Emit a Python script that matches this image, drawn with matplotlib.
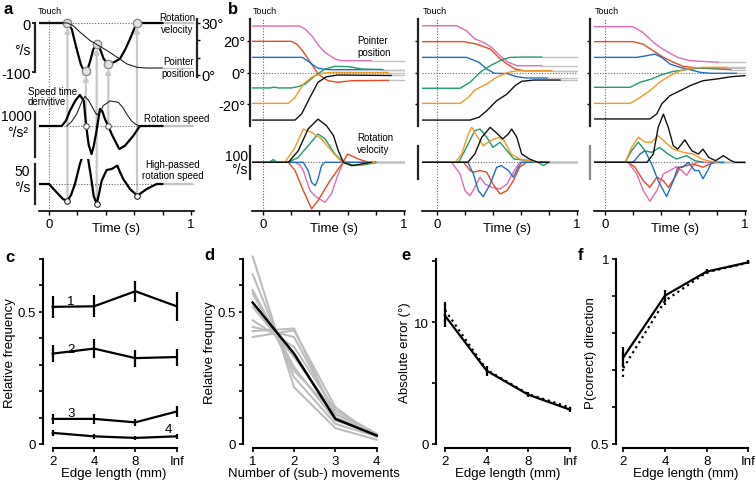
import numpy as np
import matplotlib
matplotlib.use('Agg')
import matplotlib.pyplot as plt
from matplotlib.patches import ConnectionPatch

plt.rcParams['font.family'] = ['Liberation Sans', 'DejaVu Sans']

W, H = 756, 485
PT = 0.72  # points per pixel at 100 dpi

# ---------------- panel a: one example trial (time s, value) ----------------
a_vel = [(-0.07, 0), (0.13, 0), (0.16, -12), (0.195, -53), (0.225, -85), (0.245, -97), (0.26, -98),
         (0.275, -92), (0.29, -78), (0.313, -53), (0.336, -43), (0.36, -53), (0.385, -73), (0.418, -84),
         (0.44, -82), (0.465, -79), (0.5, -73), (0.535, -55), (0.57, -33), (0.6, -12), (0.62, 0), (0.8, 0)]
a_pos = [(-0.07, 30), (0.13, 30), (0.17, 28.5), (0.22, 24.6), (0.29, 19.8), (0.35, 16.9), (0.41, 14.0),
         (0.48, 10.2), (0.55, 6.3), (0.62, 4.4), (0.69, 4.0), (0.8, 4.0)]
a_deriv = [(-0.07, 0), (0.09, 0), (0.12, 120), (0.148, 340), (0.185, 560), (0.218, 689), (0.245, 560),
           (0.262, 0), (0.28, -420), (0.3, -622), (0.315, -450), (0.335, -104), (0.359, 378), (0.375, 330),
           (0.395, 150), (0.418, 0), (0.44, -170), (0.465, -327), (0.495, -511), (0.535, -438),
           (0.594, -216), (0.64, 0), (0.8, 0)]
a_speed = [(0.125, 0), (0.16, 15), (0.195, 40), (0.23, 80), (0.254, 99), (0.28, 85), (0.312, 57),
           (0.335, 38), (0.36, 45), (0.382, 68), (0.43, 84), (0.488, 79), (0.52, 62), (0.547, 40),
           (0.58, 18), (0.606, 7), (0.64, 0)]
a_hp = [(-0.07, 0), (0.0, 0), (0.065, -12.5), (0.1, -19), (0.129, -21), (0.155, -14), (0.183, 0),
        (0.218, 25), (0.254, 44.6), (0.275, 32), (0.295, 10), (0.315, -15), (0.336, -25), (0.355, -10),
        (0.371, 4), (0.406, 17.5), (0.441, 18.75), (0.481, 22.9), (0.5, 15), (0.523, 6.25), (0.57, -6.25),
        (0.622, -14.6), (0.688, -6.25), (0.758, 0), (0.8, 0)]

ev_t = [0.13, 0.26, 0.336, 0.418, 0.62]
ev_vel = [0, -98, -43, -84, 0]
ev_src = ['hp', 'spd', 'hp', 'spd', 'hp']
ev_src_val = [-21, 0, -25, 0, -14.6]

# ---------------- panel b: three trials, six start angles ----------------
b_colors = ['#e06cb4', '#e44b26', '#1f6fc0', '#1e9c6c', '#f39a25', '#111111']

b1_pos_pink = [(-0.11, 29.5), (0.26, 29.5), (0.3, 27.5), (0.345, 23.4), (0.4, 16.5), (0.44, 12.8), (0.51, 8.6), (0.555, 7.5), (0.77, 7.5)]
b1_pos_red = [(-0.11, 19.8), (0.2, 19.8), (0.24, 18), (0.28, 13.8), (0.345, 5.4), (0.39, -1), (0.46, -5.2), (0.53, -6.2), (0.63, -5.2), (0.89, -5)]
b1_pos_blue = [(-0.11, 9.6), (0.28, 9.6), (0.315, 7.5), (0.345, 5.4), (0.39, 2.7), (0.46, 1.8), (0.85, 1.8)]
b1_pos_green = [(-0.11, -9.8), (0.05, -9.8), (0.08, -9.3), (0.11, -9.8), (0.2, -9.8), (0.25, -9), (0.3, -7.3), (0.37, -2), (0.44, 2.2), (0.51, 3.9), (0.61, 3.7), (0.7, 2.2), (0.85, 1.9)]
b1_pos_orange = [(-0.11, -19.6), (0.18, -19.6), (0.227, -15.8), (0.286, -7.3), (0.345, -3), (0.42, -0.5), (0.49, 0.1), (0.89, 0)]
b1_pos_black = [(-0.11, -30.2), (0.227, -30.2), (0.274, -26.3), (0.333, -15.8), (0.39, -6.2), (0.45, -2.7), (0.53, -1.6), (0.91, -1.9)]

b1_vel_pink = [(-0.11, 0), (0.227, 0), (0.26, -8), (0.286, -25), (0.333, -86), (0.38, -106), (0.44, -121), (0.485, -96), (0.534, -35), (0.57, 0), (0.78, 0)]
b1_vel_red = [(-0.11, 0), (0.18, 0), (0.227, -25), (0.286, -86), (0.345, -141), (0.39, -116), (0.475, -56), (0.56, -5), (0.6, 25), (0.676, 10), (0.77, -3), (0.8, 0)]
b1_vel_blue = [(-0.11, 0), (0.286, 0), (0.32, -25), (0.345, -61), (0.37, -71), (0.39, -51), (0.415, -10), (0.44, 0), (0.8, 0)]
b1_vel_green = [(-0.11, 0), (0.04, 0), (0.073, 8), (0.1, 0), (0.18, 0), (0.25, 15), (0.32, 50), (0.39, 86), (0.44, 71), (0.51, 25), (0.57, 0), (0.65, -10), (0.73, -7), (0.8, 0)]
b1_vel_orange = [(-0.11, 0), (0.155, 0), (0.227, 45), (0.286, 101), (0.345, 91), (0.415, 71), (0.485, 35), (0.56, 0), (0.63, -10), (0.72, -5), (0.79, 0)]
b1_vel_black = [(-0.11, 0), (0.18, 0), (0.25, 35), (0.32, 101), (0.39, 131), (0.45, 111), (0.5, 81), (0.534, 35), (0.57, 0), (0.63, -10), (0.7, -5), (0.77, 0)]

b2_pos_pink = [(-0.11, 29.7), (0.14, 29.7), (0.21, 26.5), (0.27, 21.3), (0.33, 19.2), (0.39, 16), (0.45, 10.7), (0.51, 6.5), (0.57, 4.3), (0.75, 4.3)]
b2_pos_red = [(-0.11, 19.6), (0.19, 19.6), (0.28, 18.1), (0.38, 14.9), (0.44, 9.6), (0.5, 5.4), (0.56, 2.2), (0.62, 1.1), (0.82, 1.1)]
b2_pos_blue = [(-0.11, 9.6), (0.21, 9.6), (0.3, 6.5), (0.355, 2.2), (0.41, -0.5), (0.5, -0.7), (0.57, -2.7), (0.64, -3.5), (0.79, -3.5)]
b2_pos_green = [(-0.11, -10), (0.165, -10), (0.236, -6.2), (0.307, 0.1), (0.38, 4.3), (0.45, 7.5), (0.52, 9.6), (0.62, 9.8), (0.75, 9.8)]
b2_pos_orange = [(-0.11, -19.6), (0.165, -19.6), (0.224, -15.8), (0.27, -11.1), (0.355, -7.3), (0.426, -3), (0.5, -0.1), (0.57, 1.1), (0.82, 1.1)]
b2_pos_black = [(-0.11, -30.2), (0.236, -30.2), (0.3, -28.4), (0.355, -24.3), (0.426, -17.9), (0.5, -13.7), (0.557, -8.4), (0.605, -5.6), (0.69, -4.8), (0.88, -4.8)]

b2_vel_pink = [(-0.11, 0), (0.105, 0), (0.164, -35), (0.2, -86), (0.236, -101), (0.27, -76), (0.307, -45), (0.343, -66), (0.39, -76), (0.45, -81), (0.5, -66), (0.545, -30), (0.59, 0), (0.75, 0)]
b2_vel_red = [(-0.11, 0), (0.19, 0), (0.236, -25), (0.26, -30), (0.307, -25), (0.355, -30), (0.4, -66), (0.45, -96), (0.5, -86), (0.545, -56), (0.59, -15), (0.64, 0), (0.8, 0)]
b2_vel_blue = [(-0.11, 0), (0.22, 0), (0.26, -35), (0.295, -86), (0.33, -104), (0.38, -66), (0.426, -15), (0.46, -10), (0.51, -25), (0.545, -45), (0.58, -15), (0.605, 0), (0.8, 0)]
b2_vel_green = [(-0.11, 0), (0.155, 0), (0.21, 45), (0.27, 96), (0.307, 101), (0.355, 76), (0.4, 45), (0.45, 61), (0.49, 40), (0.55, 10), (0.66, 5), (0.72, 0), (0.76, -10), (0.8, 0)]
b2_vel_orange = [(-0.11, 0), (0.13, 0), (0.176, 25), (0.224, 86), (0.248, 106), (0.283, 81), (0.33, 50), (0.38, 65), (0.44, 76), (0.48, 65), (0.53, 25), (0.59, 10), (0.66, 5), (0.72, 0)]
b2_vel_black = [(-0.11, 0), (0.22, 0), (0.27, 25), (0.32, 76), (0.38, 106), (0.42, 91), (0.47, 71), (0.51, 86), (0.533, 101), (0.57, 76), (0.605, 25), (0.66, 10), (0.72, 0), (0.8, 0)]

b3_pos_pink = [(-0.11, 29.1), (0.2, 29.1), (0.27, 25.5), (0.345, 19.2), (0.405, 15.3), (0.464, 12.2), (0.52, 9.6), (0.607, 7.5), (0.81, 6.5)]
b3_pos_red = [(-0.11, 19.6), (0.2, 19.6), (0.27, 18.1), (0.345, 13.8), (0.417, 9.6), (0.488, 6.5), (0.56, 3.9), (0.655, 2.9), (0.9, 1.8)]
b3_pos_blue = [(-0.11, 9.6), (0.226, 9.6), (0.3, 10.7), (0.357, 11.7), (0.405, 9.6), (0.464, 5.4), (0.536, 3.3), (0.607, 1.8), (0.68, 0.1), (0.75, -0.5), (0.94, -0.5)]
b3_pos_green = [(-0.11, -9.4), (0.18, -9.4), (0.25, -6.2), (0.333, -4.1), (0.405, -1.4), (0.488, 0.7), (0.583, 1.8), (0.68, 2.9), (0.82, 2.9)]
b3_pos_orange = [(-0.11, -19.6), (0.18, -19.6), (0.25, -15.8), (0.32, -11.6), (0.39, -6.2), (0.464, -2), (0.536, 1.1), (0.607, 2.7), (0.7, 3.3), (0.87, 3.3)]
b3_pos_black = [(-0.11, -29.5), (0.32, -29.5), (0.37, -26.3), (0.405, -20), (0.464, -14.7), (0.536, -11.6), (0.607, -8.4), (0.7, -5.2), (0.8, -4.1), (0.9, -2.7), (1.0, -2)]

b3_vel_pink = [(-0.11, 0), (0.165, 0), (0.226, -35), (0.274, -86), (0.32, -118), (0.37, -86), (0.417, -35), (0.464, -25), (0.51, -13), (0.548, -25), (0.583, -40), (0.62, -15), (0.655, 0), (0.8, 0)]
b3_vel_red = [(-0.11, 0), (0.165, 0), (0.214, -15), (0.274, -56), (0.32, -76), (0.37, -45), (0.417, -56), (0.452, -76), (0.5, -45), (0.536, -15), (0.583, -10), (0.63, -5), (0.7, -15), (0.75, -5), (0.8, 0)]
b3_vel_blue = [(-0.11, 0), (0.2, 0), (0.25, 25), (0.286, 35), (0.333, -5), (0.38, -56), (0.44, -104), (0.488, -56), (0.52, -15), (0.555, -15), (0.595, 0), (0.64, -25), (0.67, -25), (0.7, -50), (0.74, -20), (0.76, 0), (0.85, 0)]
b3_vel_green = [(-0.11, 0), (0.143, 0), (0.19, 35), (0.238, 61), (0.286, 35), (0.333, 30), (0.39, 45), (0.45, 25), (0.51, 10), (0.583, 20), (0.64, 5), (0.7, 0)]
b3_vel_orange = [(-0.11, 0), (0.143, 0), (0.19, 45), (0.238, 76), (0.286, 61), (0.333, 61), (0.38, 81), (0.43, 61), (0.488, 40), (0.56, 30), (0.63, 25), (0.69, 10), (0.75, 3), (0.8, 0)]
b3_vel_black = [(-0.11, 0), (0.3, 0), (0.345, 25), (0.38, 106), (0.417, 146), (0.452, 106), (0.488, 50), (0.52, 40), (0.57, 68), (0.62, 35), (0.667, 25), (0.7, 40), (0.74, 15), (0.79, 5), (0.845, 20), (0.9, 5), (0.93, 0), (1.0, 0)]

b_pos = [[b1_pos_pink, b1_pos_red, b1_pos_blue, b1_pos_green, b1_pos_orange, b1_pos_black],
         [b2_pos_pink, b2_pos_red, b2_pos_blue, b2_pos_green, b2_pos_orange, b2_pos_black],
         [b3_pos_pink, b3_pos_red, b3_pos_blue, b3_pos_green, b3_pos_orange, b3_pos_black]]
b_vel = [[b1_vel_pink, b1_vel_red, b1_vel_blue, b1_vel_green, b1_vel_orange, b1_vel_black],
         [b2_vel_pink, b2_vel_red, b2_vel_blue, b2_vel_green, b2_vel_orange, b2_vel_black],
         [b3_vel_pink, b3_vel_red, b3_vel_blue, b3_vel_green, b3_vel_orange, b3_vel_black]]

# ---------------- panels c-f ----------------
edge_labels = ['2', '4', '8', 'Inf']
c_n1 = [0.519, 0.521, 0.578, 0.521]
c_n1_err = [0.041, 0.041, 0.04, 0.054]
c_n2 = [0.342, 0.361, 0.325, 0.329]
c_n2_err = [0.032, 0.035, 0.032, 0.032]
c_n3 = [0.095, 0.095, 0.082, 0.123]
c_n3_err = [0.02, 0.02, 0.012, 0.02]
c_n4 = [0.042, 0.029, 0.023, 0.029]
c_n4_err = [0.01, 0.01, 0.008, 0.01]

d_moves = [1, 2, 3, 4]
d_mean = [0.535, 0.342, 0.095, 0.032]
d_subjects = [[0.709, 0.215, 0.06, 0.016],
              [0.642, 0.253, 0.076, 0.029],
              [0.582, 0.291, 0.089, 0.038],
              [0.570, 0.278, 0.114, 0.038],
              [0.519, 0.329, 0.114, 0.038],
              [0.468, 0.367, 0.127, 0.038],
              [0.443, 0.405, 0.114, 0.038],
              [0.427, 0.437, 0.101, 0.035],
              [0.405, 0.430, 0.139, 0.026]]

e_err = [10.54, 6.02, 4.05, 2.82]
e_err_sem = [0.96, 0.4, 0.2, 0.2]
e_model = [11.0, 6.1, 4.1, 3.0]
e_model_sem = [0.95, 0.3, 0.15, 0.15]

f_corr = [0.734, 0.901, 0.966, 0.991]
f_corr_sem = [0.027, 0.016, 0.006, 0.005]
f_model = [0.705, 0.887, 0.964, 0.99]
f_model_sem = [0.025, 0.012, 0.005, 0.004]

TAIL = '#c2c2c2'
DOT = '#666666'

fig = plt.figure(figsize=(W / 100, H / 100), dpi=100)


def add_ax(x0, y0, x1, y1):
    ax = fig.add_axes([x0 / W, 1 - y1 / H, (x1 - x0) / W, (y1 - y0) / H])
    ax.patch.set_visible(False)
    for s in ax.spines.values():
        s.set_visible(False)
    ax.set_xticks([])
    ax.set_yticks([])
    return ax


def ftext(x, y, s, **kw):
    kw.setdefault('ha', 'center')
    kw.setdefault('va', 'center')
    return fig.text(x / W, 1 - y / H, s, **kw)


def draw(ax, pairs, color, lw, tail_end=None, **kw):
    t, v = zip(*pairs)
    ax.plot(t, v, color=color, lw=lw, solid_joinstyle='round', solid_capstyle='round', **kw)
    if tail_end is not None:
        ax.plot([t[-1], tail_end], [v[-1], v[-1]], color=TAIL, lw=lw, zorder=1)


def bar_spine(ax, side, lo, hi, off_px, color='#222222', lw=1.6):
    sp = ax.spines[side]
    sp.set_visible(True)
    sp.set_bounds(lo, hi)
    sp.set_position(('outward', off_px * PT))
    sp.set_color(color)
    sp.set_linewidth(lw)


# ======================= panel a =======================
xa = (-0.07, 1.021)
ax1 = add_ax(39, 12, 194, 86)
ax1.set_xlim(xa)
ax1.set_ylim(-126.5, 24.5)
ax1r = ax1.twinx()
ax1r.patch.set_visible(False)
for s in ax1r.spines.values():
    s.set_visible(False)
ax1r.set_ylim(-5.8, 36.9)
ax2 = add_ax(39, 86, 194, 160)
ax2.set_xlim(xa)
ax2.set_ylim(-733, 911)
ax2r = ax2.twinx()
ax2r.patch.set_visible(False)
for s in ax2r.spines.values():
    s.set_visible(False)
ax2r.set_yticks([])
ax2r.set_ylim(-110, 137)
ax3 = add_ax(39, 160, 194, 212)
ax3.set_xlim(xa)
ax3.set_ylim(-33.75, 31.25)

bar_spine(ax1, 'left', -100, 0, 4)
ax1.set_yticks([-100, 0])
ax1.set_yticklabels(['-100', '0'])
ax1.tick_params(axis='y', length=2, width=1.2, pad=1, labelsize=10.5)
bar_spine(ax1r, 'right', -1, 32, 3)
ax1r.set_yticks([0, 10, 20, 30])
ax1r.set_yticklabels(['0°', '', '', '30°'])
ax1r.tick_params(axis='y', length=2, width=1, pad=1, labelsize=10.5)
bar_spine(ax2, 'left', -689, 311, 4)
bar_spine(ax3, 'left', -25, 25, 4)
ax3.spines['bottom'].set_visible(True)
ax3.spines['bottom'].set_linewidth(1.2)
ax3.set_xticks(np.arange(0, 1.01, 0.2))
ax3.set_xticklabels(['0', '', '', '', '', '1'])
ax3.tick_params(axis='x', length=3, width=1, pad=2, labelsize=9.5)

for ax in (ax1, ax2, ax3):
    ax.axhline(0, color=DOT, lw=0.8, ls=(0, (1, 1.5)), zorder=0)
ax1.axvline(0, ymax=(86 - 20) / 74, color=DOT, lw=0.8, ls=(0, (1, 1.5)), zorder=0)
ax2.axvline(0, color=DOT, lw=0.8, ls=(0, (1, 1.5)), zorder=0)
ax3.axvline(0, color=DOT, lw=0.8, ls=(0, (1, 1.5)), zorder=0)

draw(ax1r, a_pos, '#222222', 0.8, tail_end=1.01)
draw(ax1, a_vel, 'black', 1.6, tail_end=1.01)
draw(ax2, a_deriv, 'black', 1.6, tail_end=1.01)
draw(ax2r, a_speed, '#222222', 0.8)
draw(ax3, a_hp, 'black', 1.6, tail_end=1.01)

src_axes = {'hp': ax3, 'spd': ax2}
for t, v, src, sv in zip(ev_t, ev_vel, ev_src, ev_src_val):
    con = ConnectionPatch(xyA=(t, sv), coordsA=src_axes[src].transData,
                          xyB=(t, v - 9), coordsB=ax1.transData,
                          arrowstyle='-|>', mutation_scale=7, color='#c8c8c8',
                          lw=1.6, shrinkA=2, shrinkB=0, zorder=-1)
    fig.add_artist(con)
ax1.plot(ev_t, ev_vel, 'o', ms=6, mfc='#e2e2e2', mec='#8a8a8a', mew=1, zorder=5)
for t, src, sv in zip(ev_t, ev_src, ev_src_val):
    if src == 'spd':
        ax2.plot(t, sv, 'o', ms=4, mfc='white', mec='#555555', mew=0.8, zorder=5)
    else:
        ax3.plot(t, sv, 'o', ms=4, mfc='white', mec='#222222', mew=0.8, zorder=5)

ftext(8.5, 9, 'a', fontsize=12, fontweight='bold')
ftext(38, 11, 'Touch', ha='left', fontsize=6.5)
ftext(177, 24, 'Rotation\nvelocity', fontsize=7, linespacing=1.15)
ftext(178.5, 68, 'Pointer\nposition', fontsize=7, linespacing=1.15)
ftext(28, 97, 'Speed time\nderivitive', ha='left', fontsize=7, linespacing=1.1)
ftext(144, 119, 'Rotation speed', ha='left', fontsize=7)
ftext(172.5, 170.5, 'High-passed\nrotation speed', fontsize=7, linespacing=1.15)
ftext(22, 51, '°/s', fontsize=10)
ftext(16, 117, '1000', fontsize=10)
ftext(18, 133, '°/s²', fontsize=10)
ftext(22, 172, '50', fontsize=10)
ftext(22, 188, '°/s', fontsize=10)
ftext(116, 229, 'Time (s)', fontsize=9.5)

# ======================= panel b =======================
b_zero = [263, 437, 605]
b_pps = [141, 140, 140]
b_left = [252, 422, 594]
b_off = [2, 4, 4]
b_vbar = ['#222222', '#222222', '#8a8a8a']

for k in range(3):
    z, p, lp = b_zero[k], b_pps[k], b_left[k]
    rp = z + 1.01 * p
    xl = ((lp - z) / p, 1.01)
    axp = add_ax(lp, 15, rp, 130)
    axv = add_ax(lp, 112, rp, 212)
    axp.set_xlim(xl)
    axv.set_xlim(xl)
    axp.set_ylim(-35.87, 37.14)
    axv.set_ylim(-147.6, 155.5)

    bar_spine(axp, 'left', -34, 34, b_off[k])
    axp.set_yticks([-20, 0, 20])
    if k == 0:
        axp.set_yticklabels(['-20°', '0°', '20°'])
    else:
        axp.set_yticklabels(['', '', ''])
    axp.tick_params(axis='y', length=2, width=1, pad=1, labelsize=10.5)
    bar_spine(axv, 'left', -50, 50, b_off[k], color=b_vbar[k])

    axv.spines['bottom'].set_visible(True)
    axv.spines['bottom'].set_linewidth(1.2)
    axv.set_xticks(np.arange(0, 1.01, 0.2))
    axv.set_xticklabels(['0', '', '', '', '', '1'])
    axv.tick_params(axis='x', length=3, width=1, pad=2, labelsize=9.5)

    axp.axhline(0, color=DOT, lw=0.8, ls=(0, (1, 1.5)), zorder=0)
    axv.axhline(0, color=DOT, lw=0.8, ls=(0, (1, 1.5)), zorder=0)
    axp.axvline(0, ymax=(130 - 20) / 115, color=DOT, lw=0.8, ls=(0, (1, 1.5)), zorder=0)
    axv.axvline(0, ymax=(212 - 130) / 100, color=DOT, lw=0.8, ls=(0, (1, 1.5)), zorder=0)

    for i, col in enumerate(b_colors):
        draw(axp, b_pos[k][i], col, 1.0, tail_end=1.0)
        draw(axv, b_vel[k][i], col, 1.0, tail_end=1.0)

    ftext(lp + 1, 11, 'Touch', ha='left', fontsize=6.5)
    ftext(z + 0.5 * p, 229, 'Time (s)', fontsize=9.5)

ftext(233.5, 9, 'b', fontsize=12, fontweight='bold')
ftext(357, 47, 'Pointer\nposition', ha='left', fontsize=7, linespacing=1.15)
ftext(357, 144, 'Rotation\nvelocity', ha='left', fontsize=7, linespacing=1.15)
ftext(248, 157, '100', ha='right', fontsize=10)
ftext(248, 170, '°/s', ha='right', fontsize=10)

# ======================= panels c-f =======================
YT, YB = 260, 445


def stat_ax(x0, x1, xlim, ylim, left_off):
    ax = add_ax(x0, YT, x1, YB)
    ax.set_xlim(xlim)
    ax.set_ylim(ylim)
    for side, off in (('left', left_off), ('bottom', 4)):
        sp = ax.spines[side]
        sp.set_visible(True)
        sp.set_linewidth(1.5)
        sp.set_position(('outward', off * PT))
    ax.tick_params(length=3, width=1.2, pad=2, labelsize=9.5)
    ax.tick_params(which='minor', length=3, width=1.2)
    return ax


eb_kw = dict(color='black', lw=1.6, elinewidth=1.6, capsize=0, clip_on=False)

# c
axc = stat_ax(52.7, 176.7, (0, 3), (0, 0.7), 10)
xs = np.arange(4)
for vals, errs in ((c_n1, c_n1_err), (c_n2, c_n2_err), (c_n3, c_n3_err), (c_n4, c_n4_err)):
    axc.errorbar(xs, vals, yerr=errs, **eb_kw)
axc.set_xticks(xs)
axc.set_xticklabels(edge_labels)
axc.set_yticks([0, 0.5])
axc.set_yticklabels(['0', '0.5'])
axc.set_yticks(np.arange(0, 0.71, 0.1), minor=True)
ftext(70.7, 302, '1', fontsize=9.5)
ftext(70.7, 350, '2', fontsize=9.5)
ftext(70.7, 414, '3', fontsize=9.5)
ftext(168.3, 430, '4', fontsize=9.5)
ftext(10, 353, 'Relative frequency', rotation=90, fontsize=9.5)
ftext(114, 474, 'Edge length (mm)', fontsize=9.5)
ftext(10, 257, 'c', fontsize=12, fontweight='bold')

# d
axd = stat_ax(252.7, 376.7, (1, 4), (0, 0.7), 10)
for subj in d_subjects:
    axd.plot(d_moves, subj, color='#bdbdbd', lw=1.5, clip_on=False)
axd.plot(d_moves, d_mean, color='black', lw=1.8, clip_on=False)
axd.set_xticks(d_moves)
axd.set_yticks([0, 0.5])
axd.set_yticklabels(['0', '0.5'])
axd.set_yticks(np.arange(0, 0.71, 0.1), minor=True)
ftext(210, 353, 'Relative frequncy', rotation=90, fontsize=9.5)
ftext(314, 474, 'Number of (sub-) movements', fontsize=9.5)
ftext(209, 256, 'd', fontsize=12, fontweight='bold')

# e
axe = stat_ax(445, 570, (0, 3), (0, 15.2), 9)
axe.errorbar(xs, e_err, yerr=e_err_sem, **eb_kw)
ebm = axe.errorbar(xs, e_model, yerr=e_model_sem, ls=':', **eb_kw)
ebm[2][0].set_linestyle(':')
axe.set_xticks(xs)
axe.set_xticklabels(edge_labels)
axe.set_yticks([0, 10])
axe.set_yticks([5, 15], minor=True)
ftext(405, 353, 'Absolute error (°)', rotation=90, fontsize=9.5)
ftext(508, 474, 'Edge length (mm)', fontsize=9.5)
ftext(406, 255, 'e', fontsize=12, fontweight='bold')

# f
axf = stat_ax(623.3, 748.3, (0, 3), (0.5, 1.0), 7)
axf.errorbar(xs, f_corr, yerr=f_corr_sem, **eb_kw)
ebf = axf.errorbar(xs, f_model, yerr=f_model_sem, ls=':', **eb_kw)
ebf[2][0].set_linestyle(':')
axf.set_xticks(xs)
axf.set_xticklabels(edge_labels)
axf.set_yticks([0.5, 1.0])
axf.set_yticklabels(['0.5', '1'])
axf.set_yticks(np.arange(0.5, 1.01, 0.1), minor=True)
ftext(591, 353, 'P(correct) direction', rotation=90, fontsize=9.5)
ftext(686, 474, 'Edge length (mm)', fontsize=9.5)
ftext(581, 255, 'f', fontsize=12, fontweight='bold')

fig.savefig('out.png', dpi=100)
